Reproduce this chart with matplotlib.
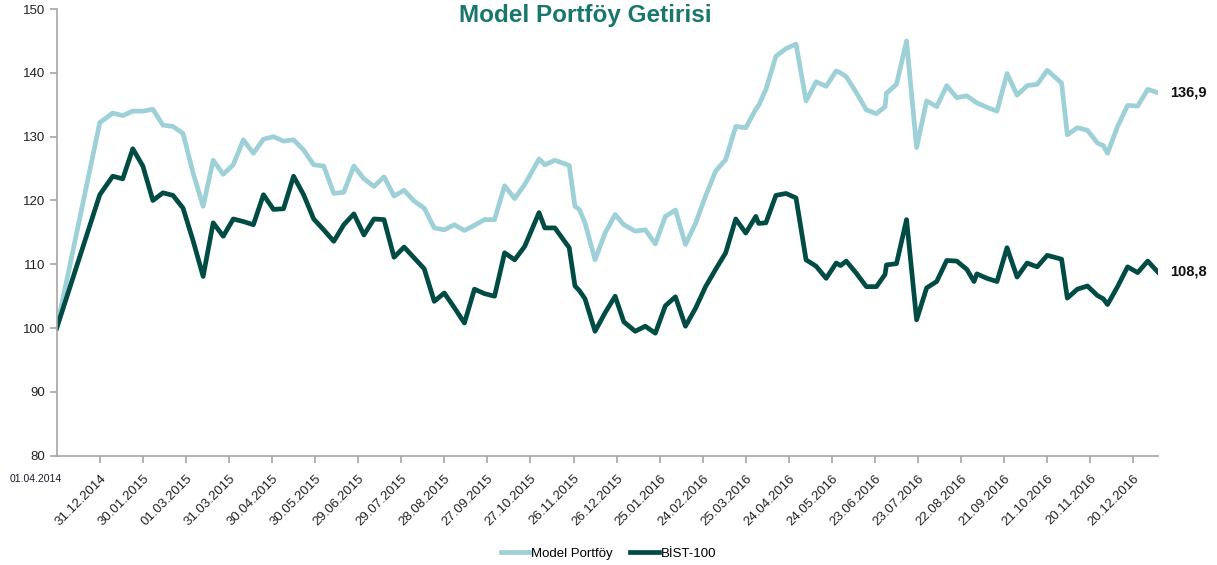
#!/usr/bin/env python3
"""Model portfolio vs BIST-100 cumulative return (start = 100)."""
import numpy as np
import pandas as pd
import matplotlib
matplotlib.use("Agg")
import matplotlib.pyplot as plt
import matplotlib.dates as mdates

# axis origin; the first point is labelled separately as the portfolio start
START = np.datetime64("2014-12-01")
start_label = "01.04.2014"

# days after START for every observation
day_offsets = [
    0, 30, 39, 46, 53, 60, 67, 74, 81, 88, 95, 102, 109, 116, 123, 130,
    137, 144, 151, 158, 165, 172, 179, 186, 193, 200, 207, 214, 221, 228,
    235, 242, 249, 256, 263, 270, 277, 284, 291, 298, 305, 312, 319, 326,
    336, 340, 347, 357, 361, 364, 368, 375, 382, 389, 395, 403, 410, 417,
    424, 431, 438, 445, 452, 459, 466, 473, 480, 487, 489, 494, 501, 508,
    515, 522, 529, 536, 543, 546, 550, 557, 564, 571, 577, 578, 585, 592,
    599, 606, 613, 620, 627, 634, 639, 641, 648, 655, 662, 669, 676, 683,
    690, 700, 704, 711, 718, 725, 729, 732, 739, 746, 753, 760, 767,
]

model_portfoy = [
    100.0, 132.2, 133.7, 133.3, 134.0, 134.0, 134.3, 131.8, 131.6, 130.5,
    124.3, 119.1, 126.3, 124.1, 125.6, 129.5, 127.4, 129.6, 130.0, 129.3,
    129.5, 127.9, 125.6, 125.4, 121.1, 121.3, 125.4, 123.4, 122.2, 123.7,
    120.7, 121.6, 119.9, 118.8, 115.7, 115.4, 116.2, 115.3, 116.1, 117.0,
    117.0, 122.3, 120.3, 122.5, 126.5, 125.6, 126.3, 125.5, 119.1, 118.6,
    116.5, 110.7, 114.9, 117.8, 116.2, 115.2, 115.4, 113.2, 117.5, 118.5,
    113.1, 116.4, 120.7, 124.6, 126.4, 131.6, 131.4, 134.3, 134.9, 137.4,
    142.6, 143.8, 144.5, 135.6, 138.6, 137.9, 140.3, 140.0, 139.4, 136.9,
    134.2, 133.6, 134.7, 136.8, 138.2, 145.0, 128.3, 135.6, 134.7, 138.0,
    136.1, 136.4, 135.6, 135.3, 134.6, 134.0, 139.9, 136.5, 138.0, 138.2,
    140.4, 138.4, 130.3, 131.4, 131.0, 129.0, 128.6, 127.4, 131.6, 134.9,
    134.8, 137.4, 136.9,
]

bist_100 = [
    100.0, 120.9, 123.8, 123.4, 128.1, 125.4, 120.0, 121.2, 120.8, 118.8,
    113.7, 108.1, 116.5, 114.4, 117.1, 116.7, 116.2, 120.9, 118.6, 118.7,
    123.8, 120.9, 117.1, 115.4, 113.6, 116.2, 117.9, 114.6, 117.1, 117.0,
    111.1, 112.7, 111.0, 109.3, 104.2, 105.5, 103.2, 100.8, 106.1, 105.4,
    105.0, 111.8, 110.7, 112.8, 118.1, 115.7, 115.7, 112.6, 106.6, 105.9,
    104.6, 99.5, 102.4, 105.0, 101.0, 99.5, 100.3, 99.2, 103.5, 104.9,
    100.3, 103.1, 106.5, 109.2, 111.8, 117.1, 114.9, 117.5, 116.4, 116.5,
    120.8, 121.1, 120.4, 110.7, 109.7, 107.8, 110.2, 109.8, 110.5, 108.6,
    106.5, 106.5, 108.4, 109.9, 110.1, 117.0, 101.3, 106.3, 107.3, 110.6,
    110.5, 109.2, 107.3, 108.5, 107.8, 107.3, 112.6, 108.0, 110.2, 109.6,
    111.4, 110.8, 104.7, 106.1, 106.6, 105.1, 104.6, 103.7, 106.5, 109.6,
    108.7, 110.5, 108.8,
]

tick_dates = [
    "31.12.2014", "30.01.2015", "01.03.2015", "31.03.2015", "30.04.2015",
    "30.05.2015", "29.06.2015", "29.07.2015", "28.08.2015", "27.09.2015",
    "27.10.2015", "26.11.2015", "26.12.2015", "25.01.2016", "24.02.2016",
    "25.03.2016", "24.04.2016", "24.05.2016", "23.06.2016", "23.07.2016",
    "22.08.2016", "21.09.2016", "21.10.2016", "20.11.2016", "20.12.2016",
]

series_names = ["Model Portföy", "BİST-100"]
LIGHT = "#9dd0d7"
DARK = "#004c45"
AXIS_GREY = "#a6a6a6"


def main():
    plt.rcParams["font.family"] = ["Liberation Sans", "DejaVu Sans"]

    x = START + np.array(day_offsets).astype("timedelta64[D]")
    ticks = pd.to_datetime(tick_dates, format="%d.%m.%Y")

    fig = plt.figure(figsize=(12.17, 5.65), dpi=100)
    ax = fig.add_axes([0.0466, 0.1934, 0.9052, 0.7906])

    l1, = ax.plot(x, model_portfoy, color=LIGHT, lw=3.4)
    l2, = ax.plot(x, bist_100, color=DARK, lw=3.4)

    x0 = mdates.date2num(START)
    ax.set_xlim(x0, x0 + 767.4)
    ax.set_ylim(80, 150)
    ax.set_yticks(range(80, 151, 10))
    ax.set_xticks(ticks)
    ax.set_xticklabels(tick_dates, rotation=45, ha="right",
                       rotation_mode="anchor")

    for side in ("top", "right"):
        ax.spines[side].set_visible(False)
    for side in ("left", "bottom"):
        ax.spines[side].set_color(AXIS_GREY)
        ax.spines[side].set_linewidth(1.2)
    ax.tick_params(axis="both", colors=AXIS_GREY, length=5, width=1.2,
                   labelcolor="#222222", labelsize=9.5)
    ax.tick_params(axis="x", pad=7)

    # closing values at the right end
    for vals in (model_portfoy, bist_100):
        ax.annotate(f"{vals[-1]:.1f}".replace(".", ","), xy=(x[-1], vals[-1]),
                    xytext=(9, 0), textcoords="offset points", va="center",
                    ha="left", fontsize=10.5, fontweight="bold",
                    color="#111111", annotation_clip=False)

    fig.text(10 / 1217, 1 - 479 / 565, start_label, fontsize=7.5,
             ha="left", va="center", color="#1a1a2e")
    fig.text(0.481, 0.972, "Model Portföy Getirisi", ha="center",
             va="center", fontsize=17.5, fontweight="bold", color="#18776c")

    fig.legend([l1, l2], series_names, loc="lower center",
               bbox_to_anchor=(0.5, -0.012), ncol=2, frameon=False,
               fontsize=9.5, handlelength=2.2, handletextpad=0.1,
               columnspacing=1.3)

    fig.savefig("out.png", dpi=100)
    plt.close(fig)


if __name__ == "__main__":
    main()
